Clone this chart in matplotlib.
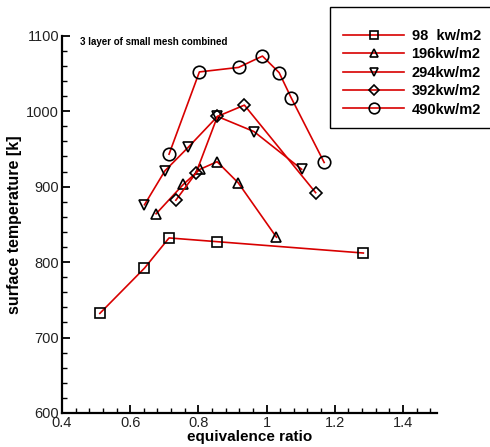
import matplotlib
matplotlib.use("Agg")
import matplotlib.pyplot as plt
from matplotlib.patches import Rectangle
from matplotlib.ticker import MultipleLocator

plt.rcParams['font.family'] = ['Liberation Sans', 'DejaVu Sans']

# data
x98 = [0.511, 0.642, 0.714, 0.856, 1.284]
y98 = [732, 792, 832, 827, 812]
x196 = [0.676, 0.756, 0.805, 0.855, 0.917, 1.029]
y196 = [864, 903, 923, 933, 905, 833]
x294 = [0.642, 0.702, 0.770, 0.856, 0.963, 1.103]
y294 = [876, 921, 952, 993, 973, 923]
x392 = [0.734, 0.793, 0.856, 0.935, 1.144]
y392 = [882, 918, 993, 1008, 892]
x490 = [0.714, 0.803, 0.918, 0.988, 1.037, 1.072, 1.169]
y490 = [943, 1052, 1058, 1073, 1051, 1018, 932]
labels = ['98  kw/m2', '196kw/m2', '294kw/m2', '392kw/m2', '490kw/m2']

red = '#d80000'
fig = plt.figure(figsize=(4.9, 4.47), dpi=100)
ax = fig.add_axes([62/490, 1-413/447, (437-62)/490, (413-35.7)/447])

series = [(x98, y98, 's', 6.5), (x196, y196, '^', 7.5), (x294, y294, 'v', 7.5),
          (x392, y392, 'D', 6.5), (x490, y490, 'o', 9)]
handles = []
for (xs, ys, m, ms), lab in zip(series, labels):
    h, = ax.plot(xs, ys, color=red, lw=1.2, marker=m, ms=ms, mfc='none',
                 mec='black', mew=1.2, label=lab)
    handles.append(h)

ax.set_xlim(0.4, 1.5)
ax.set_ylim(600, 1100)
ax.xaxis.set_minor_locator(MultipleLocator(0.04))
ax.yaxis.set_major_locator(MultipleLocator(100))
ax.yaxis.set_minor_locator(MultipleLocator(20))
ax.set_xticks([0.4, 0.6, 0.8, 1.0, 1.2, 1.4])
ax.set_xticklabels(['0.4', '0.6', '0.8', '1', '1.2', '1.4'])
for s in ['top', 'right']:
    ax.spines[s].set_visible(False)
for s in ['left', 'bottom']:
    ax.spines[s].set_linewidth(1.6)
ax.tick_params(which='major', direction='in', length=6, width=1.3, labelsize=10.5,
               labelcolor='#222222', pad=2)
ax.tick_params(which='minor', direction='in', length=3.5, width=1.0)

ax.set_xlabel('equivalence ratio', fontsize=11, fontweight='bold', labelpad=0)
ax.set_ylabel('surface temperature [k]', fontsize=11.5, fontweight='bold', labelpad=3)
ax.text(0.453, 1092, '3 layer of small mesh combined', fontsize=7, fontweight='bold',
        va='center', ha='left')

fig.patches.append(Rectangle((330/490, 1-128/447), 170/490, 121/447,
                             transform=fig.transFigure, fill=False,
                             edgecolor='black', lw=1.0))
leg = fig.legend(handles=handles, labels=labels, loc='upper left',
                 bbox_to_anchor=(343/490, 1-29/447), frameon=False,
                 handlelength=4.2, handletextpad=0.5, labelspacing=0.3, markerscale=0.85,
                 prop={'weight': 'bold', 'size': 10.5}, borderaxespad=0, borderpad=0)

fig.savefig('out.png', dpi=100)
